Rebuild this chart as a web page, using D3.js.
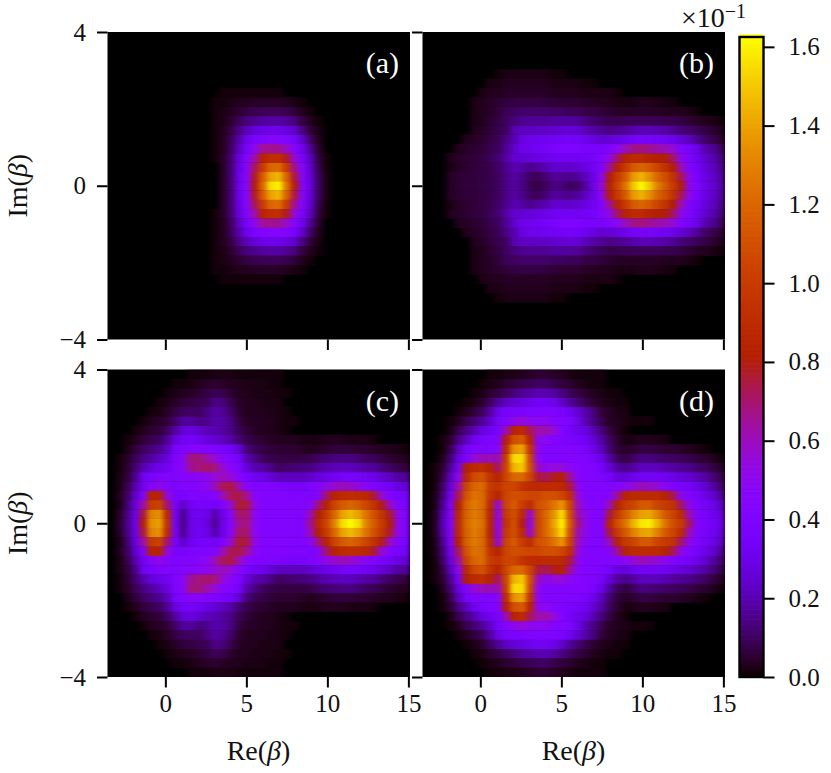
<!DOCTYPE html>
<html><head><meta charset="utf-8">
<script src="https://cdn.jsdelivr.net/npm/d3@7"></script>
<style>html,body{margin:0;background:#fff}svg{display:block}text{font-family:"Liberation Serif",serif;fill:#111}</style>
</head><body><svg id="c" width="831" height="773"></svg>
<script>
// All values are hundredths of the colour-bar unit. Rows go from Im=0 outwards (mirrored in Im). Each row begins at column "start".
const startA = 13;
const panelA = [
[0,4,12,30,45,80,120,155,160,125,80,45,28,10,2],
[0,4,12,30,45,78,115,140,145,118,75,45,26,10,2],
[0,4,12,28,44,72,100,120,122,100,65,43,24,8,1],
[1,4,12,27,42,62,85,92,92,78,55,38,22,7,1],
[1,3,10,22,36,50,65,66,65,58,45,32,16,5,0],
[1,3,9,19,30,38,42,44,44,42,36,24,11,3,0],
[1,3,7,14,21,26,29,30,30,28,24,14,6,2,0],
[1,2,5,9,13,15,17,18,18,16,13,7,3,1,0],
[1,2,3,5,7,8,9,9,9,8,6,3,1],
[1,1,2,3,3,4,4,4,4,3,2,1],
[0,1,1,1,1,1,1,1,1]
];
const startB = 3;
const panelB = [
[4,5,6,6,7,8,10,14,18,14,9,7,10,14,13,10,11,18,30,55,85,105,125,150,163,150,130,115,100,80,50,40,30,25,18],
[4,5,6,6,7,8,10,14,18,15,10,9,12,17,16,15,17,22,30,50,80,100,115,138,145,135,120,110,95,72,50,38,29,24,17],
[2,4,5,6,7,8,11,15,20,18,15,17,20,24,24,24,25,28,33,42,65,85,100,115,120,115,105,95,80,60,42,35,27,22,15],
[3,4,5,6,7,9,12,18,25,25,27,28,30,32,33,33,33,34,36,42,52,70,85,90,90,85,82,80,70,50,40,32,25,20,13],
[0,3,4,5,6,8,10,16,24,30,31,33,35,38,40,40,39,38,37,38,42,48,60,66,68,65,62,60,55,42,36,30,20,16,10],
[0,0,3,4,5,7,9,14,20,28,30,31,32,33,34,35,34,31,28,25,26,28,31,35,37,36,35,34,31,26,22,16,11,8,5],
[0,0,0,3,4,6,8,10,20,22,22,23,23,24,25,26,25,21,18,16,14,15,17,19,21,21,20,19,16,13,11,9,7,5,3],
[0,0,0,2,3,5,7,10,13,15,16,16,16,17,17,17,16,13,11,9,8,8,9,9,9,9,9,8,8,7,5,4,3,2,1],
[0,0,0,2,3,4,6,9,10,11,11,11,11,10,10,9,9,7,7,6,5,4,4,4,4,4,4,3,3,3,2,1],
[0,0,0,2,3,4,5,6,7,7,7,7,6,6,5,5,5,4,4,3,3,2,2,2,3,3,2,2,1],
[0,0,0,0,2,3,3,4,4,4,4,4,4,3,3,3,3,2,2,2,2,1],
[0,0,0,0,0,2,2,3,3,3,3,3,3,2,2,2,2,1,1],
[0,0,0,0,0,0,1,2,2,2,2,2,2,1,1]
];
const startC = 1;
const panelC = [
[5,15,32,80,135,140,95,35,15,30,32,28,17,30,45,66,68,48,42,42,42,42,42,42,65,88,105,130,155,163,155,130,115,100,80,50,40],
[4,14,30,75,130,135,90,36,16,30,33,30,20,30,47,70,70,48,42,42,42,42,42,42,60,82,100,120,140,147,140,125,110,95,76,50,40],
[2,12,28,62,100,105,70,38,24,33,36,36,34,40,57,76,74,52,42,42,42,42,42,42,46,68,85,105,115,120,115,105,95,78,58,42,38],
[3,10,24,42,85,85,55,38,38,40,40,40,42,60,72,74,66,46,42,42,42,42,41,41,40,45,70,85,90,92,90,88,75,55,42,37,34],
[2,8,20,33,45,52,45,40,42,42,45,48,60,72,74,62,46,42,41,40,39,38,36,37,40,45,52,56,60,58,52,47,42,37,33,28,26],
[2,6,15,33,38,42,42,42,45,45,47,50,55,60,55,45,38,32,30,26,22,22,22,22,24,28,30,33,36,38,36,33,30,26,22,18,16],
[1,5,12,20,27,30,33,42,47,65,68,70,68,55,47,40,26,20,18,14,10,11,12,13,14,17,20,21,22,22,20,18,17,13,10,8,6],
[1,4,9,14,18,22,28,40,47,68,68,62,55,45,42,36,20,14,10,8,7,7,7,7,8,10,12,13,14,14,12,10,9,7,5,4,3],
[0,2,6,10,13,16,22,38,42,45,45,42,40,38,34,26,13,9,7,6,5,5,5,4,3,4,5,6,6,6,5,5,4,3,3,2,1],
[0,1,3,6,8,10,16,28,34,35,32,28,25,22,18,12,8,6,5,4,3,3,3,2,2,2,3,3,3,2,2,2,1],
[0,0,1,3,5,6,10,18,26,28,24,21,20,18,14,9,6,4,3,3,2,1],
[0,0,0,1,3,4,6,11,17,17,14,15,19,18,14,7,4,4,3,3,2,1,1],
[0,0,0,0,1,2,4,7,10,10,10,14,18,16,11,5,3,3,3,2,2,1],
[0,0,0,0,0,1,2,4,6,7,8,9,14,13,8,4,3,3,2,2,2],
[0,0,0,0,0,0,1,2,3,4,5,7,9,8,5,3,3,2,2,2,1,1],
[0,0,0,0,0,0,0,1,1,2,3,4,5,4,3,3,2,2,2,1,1],
[0,0,0,0,0,0,0,0,0,1,1,1,2,2,2,1,1,1,1,1,1]
];
const startD = 1;
const panelD = [
[3,20,42,90,120,130,125,85,48,95,110,80,50,105,120,140,160,115,68,50,42,42,85,110,125,145,158,160,145,125,110,100,70,42,38,34,28],
[3,18,40,88,118,128,122,85,50,100,110,90,55,105,120,135,155,110,62,50,42,42,75,100,115,130,140,142,130,115,105,90,60,42,36,32,26],
[2,15,38,82,118,128,122,90,55,105,115,100,90,110,115,125,135,105,60,45,42,42,60,85,100,105,115,115,105,100,95,70,50,40,35,30,22],
[2,12,33,72,112,125,122,95,85,105,110,108,105,105,110,110,105,92,55,42,42,42,45,65,85,90,90,90,90,85,72,50,42,37,30,25,16],
[1,10,28,62,105,120,122,100,95,105,105,95,90,88,90,90,88,75,50,42,42,42,42,44,48,54,60,58,55,48,42,38,35,30,25,18,12],
[1,7,22,48,88,108,112,95,85,105,120,120,105,75,72,78,82,65,45,42,42,40,36,28,27,31,35,35,35,33,30,27,25,21,18,13,8],
[1,5,16,36,82,90,92,85,70,105,145,150,110,60,50,55,55,48,44,42,40,36,26,18,15,18,22,22,22,20,18,16,15,12,10,7,4],
[0,3,12,28,40,55,60,60,60,100,155,155,105,50,42,42,42,42,42,42,36,30,18,10,7,10,14,13,12,11,10,9,8,6,5,3,1],
[0,1,8,22,36,42,42,42,45,90,135,140,95,50,42,42,42,41,40,38,30,22,12,6,4,5,7,7,6,5,5,4,3,2,1],
[0,1,5,14,22,32,38,40,42,80,110,115,85,50,48,42,40,38,35,33,25,18,10,5,2,2,3,3,2,2],
[0,0,2,8,14,20,28,32,38,60,85,90,72,62,62,55,42,35,30,28,20,13,7,3,1],
[0,0,1,3,8,12,17,24,36,42,50,55,50,48,50,42,41,40,30,20,14,8,4,3,2,1,1,1],
[0,0,0,1,3,6,10,18,30,36,38,38,39,40,40,39,38,32,25,19,13,6,4,2,2],
[0,0,0,0,1,2,5,10,17,22,25,28,30,33,33,30,24,17,12,8,5,3,2,1,1],
[0,0,0,0,0,1,2,5,7,10,13,16,18,20,20,18,14,10,7,5,3,2,1,1],
[0,0,0,0,0,0,1,2,3,5,6,8,9,10,10,8,6,5,3,2,1,1],
[0,0,0,0,0,0,0,1,1,2,2,3,4,5,5,4,3,2,1,1,1,1]
];
const panelNames = ["(a)","(b)","(c)","(d)"];
const colourTicks = [0,0.2,0.4,0.6,0.8,1.0,1.2,1.4,1.6];
const xTicks = [0,5,10,15];
const yTicks = [-4,0,4];
const vMax = 1.625, nCols = 38, nRows = 33, xMin = -3.57, xMax = 15.1;

function gnuplot(t){ // matplotlib "gnuplot" colour map
  t = Math.max(0,Math.min(1,t));
  const c = v=>Math.round(255*Math.max(0,Math.min(1,v)));
  return `rgb(${c(Math.sqrt(t))},${c(t*t*t)},${c(Math.sin(2*Math.PI*t))})`;
}
const svg = d3.select("#c");
const defs = svg.append("defs");
const blur = defs.append("filter").attr("id","soft").attr("x",-0.05).attr("y",-0.05).attr("width",1.1).attr("height",1.1)
  .attr("color-interpolation-filters","sRGB");
blur.append("feGaussianBlur").attr("stdDeviation","2.6 0.55");

const layout = [
 {name:0,rows:panelA,start:startA,x0:107.5,y0:32,   bottomLab:false,leftLab:true},
 {name:1,rows:panelB,start:startB,x0:422.5,y0:32,   bottomLab:false,leftLab:false},
 {name:2,rows:panelC,start:startC,x0:107.5,y0:369.5,bottomLab:true, leftLab:true},
 {name:3,rows:panelD,start:startD,x0:422.5,y0:369.5,bottomLab:true, leftLab:false}
];
const W = 302.5, H = 307.5;
layout.forEach((p,i)=>{
  const x = d3.scaleLinear().domain([xMin,xMax]).range([p.x0,p.x0+W]);
  const y = d3.scaleLinear().domain([-4,4]).range([p.y0+H,p.y0]);
  const dx = (xMax-xMin)/nCols, dy = 8/nRows;
  const cells = [];
  p.rows.forEach((row,k)=>row.forEach((v,j)=>{
    if(!v) return;
    (k? [k,-k]:[0]).forEach(s=>cells.push({col:j+p.start,row:s,v:v/100}));
  }));
  defs.append("clipPath").attr("id","clip"+i).append("rect").attr("x",p.x0).attr("y",p.y0).attr("width",W).attr("height",H);
  svg.append("rect").attr("x",p.x0).attr("y",p.y0).attr("width",W).attr("height",H).attr("fill","#000");
  const g = svg.append("g").attr("clip-path",`url(#clip${i})`).append("g").attr("filter","url(#soft)");
  g.selectAll("rect").data(cells).join("rect")
    .attr("x",d=>x(xMin+d.col*dx)).attr("width",x(dx)-x(0)+0.3)
    .attr("y",d=>y((d.row+0.5)*dy)).attr("height",y(0)-y(dy)+0.3)
    .attr("fill",d=>gnuplot(d.v/vMax));
  // axes
  const ax = d3.axisBottom(x).tickValues(xTicks).tickSize(10.5).tickPadding(7)
    .tickFormat(p.bottomLab? d=>d : ()=> "");
  const ay = d3.axisLeft(y).tickValues(yTicks).tickSize(10.5).tickPadding(11)
    .tickFormat(p.leftLab? d=>(d<0?"\u2212"+(-d):d) : ()=> "");
  [svg.append("g").attr("transform",`translate(0,${p.y0+H})`).call(ax),
   svg.append("g").attr("transform",`translate(${p.x0},0)`).call(ay)].forEach(a=>{
    a.select(".domain").remove();
    a.selectAll("line").attr("stroke","#000").attr("stroke-width",2);
    a.selectAll("text").attr("font-size",25).style("font-family",'"Liberation Serif",serif').attr("fill","#111");
  });
  svg.append("text").attr("x",p.x0+W-11).attr("y",p.y0+41).attr("text-anchor","end")
    .attr("font-size",30).style("fill","#fff").text(panelNames[p.name]);
  if(p.bottomLab){
    const t = svg.append("text").attr("x",p.x0+151).attr("y",760).attr("text-anchor","middle").attr("font-size",28);
    t.append("tspan").text("Re(");
    t.append("tspan").attr("font-style","italic").text("\u03B2");
    t.append("tspan").text(")");
  }
  if(p.leftLab){
    const t = svg.append("text").attr("transform",`translate(27,${p.y0+H/2}) rotate(-90)`).attr("text-anchor","middle").attr("font-size",28);
    t.append("tspan").text("Im(");
    t.append("tspan").attr("font-style","italic").text("\u03B2");
    t.append("tspan").text(")");
  }
});
// colour bar
const cy = d3.scaleLinear().domain([0,vMax]).range([677,37]);
const cbX = 739.5, cbW = 24;
const steps = d3.range(0,256).map(i=>i/255*vMax);
svg.append("g").selectAll("rect").data(steps).join("rect")
  .attr("x",cbX).attr("width",cbW).attr("y",d=>cy(d)-2.6).attr("height",3.2)
  .attr("fill",d=>gnuplot(d/vMax));
svg.append("rect").attr("x",cbX).attr("y",37).attr("width",cbW).attr("height",640)
  .attr("fill","none").attr("stroke","#000").attr("stroke-width",2.4);
const ac = svg.append("g").attr("transform",`translate(${cbX+cbW},0)`)
  .call(d3.axisRight(cy).tickValues(colourTicks).tickSize(11).tickPadding(14).tickFormat(d3.format(".1f")));
ac.select(".domain").remove();
ac.selectAll("line").attr("stroke","#000").attr("stroke-width",2);
ac.selectAll("text").attr("font-size",25).style("font-family",'"Liberation Serif",serif').attr("fill","#111");
const ex = svg.append("text").attr("x",681).attr("y",27).attr("font-size",28);
ex.append("tspan").text("\u00D710");
ex.append("tspan").attr("font-size",20).attr("dy",-9).text("\u22121");
</script></body></html>
